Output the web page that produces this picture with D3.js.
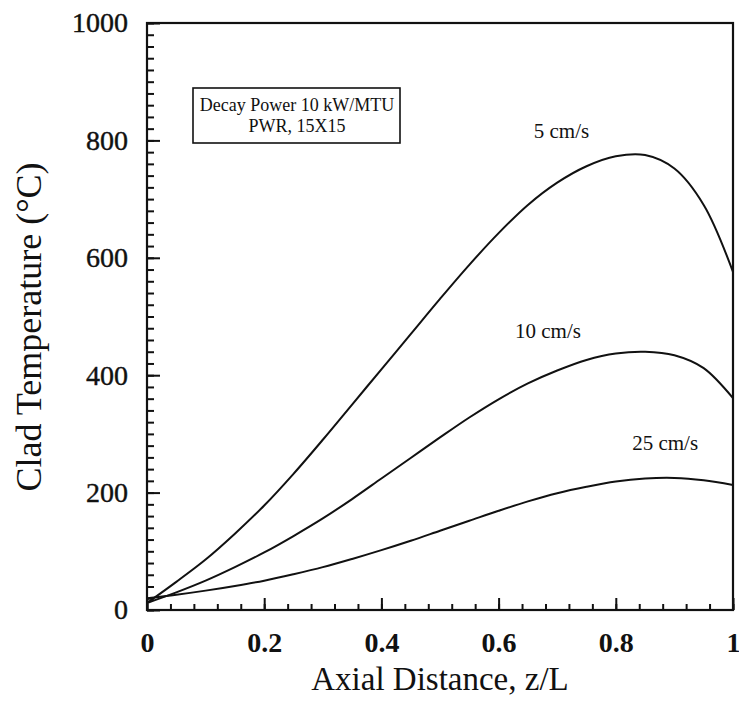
<!DOCTYPE html>
<html>
<head>
<meta charset="utf-8">
<script src="https://cdn.jsdelivr.net/npm/d3@7"></script>
<style>
body { margin: 0; background: #fff; }
text { font-family: "Liberation Serif", "Times New Roman", serif; fill: #111; }
</style>
</head>
<body>
<script>
// data
var zPoints = [0, 0.05, 0.1, 0.15, 0.2, 0.25, 0.3, 0.35, 0.4, 0.45, 0.5,
               0.55, 0.6, 0.65, 0.7, 0.75, 0.8, 0.85, 0.9, 0.95, 1.0];
var temp5  = [12, 48, 86, 130, 178, 232, 290, 350, 410, 470, 530,
              588, 642, 690, 728, 756, 773, 775, 752, 690, 576];
var temp10 = [12, 30, 50, 73, 98, 126, 156, 189, 224, 259, 294,
              328, 359, 386, 408, 426, 437, 440, 434, 412, 361];
var temp25 = [20, 26, 33, 41, 50, 61, 73, 87, 102, 118, 135,
              152, 169, 185, 199, 210, 219, 224, 225, 221, 213];
var seriesNames = ["5 cm/s", "10 cm/s", "25 cm/s"];
var labelX = [0.66, 0.628, 0.828];
var labelY = [804, 463, 272];
var xTicks = [0, 0.2, 0.4, 0.6, 0.8, 1];
var yTicks = [0, 200, 400, 600, 800, 1000];
var boxLines = ["Decay Power 10 kW/MTU", "PWR, 15X15"];

var width = 739,
    height = 717,
    marginLeft = 147,
    marginRight = 6,
    marginTop = 23,
    marginBottom = 107
;

var svg = d3.select("body").append("svg")
    .attr("width", width)
    .attr("height", height)
;

var x = d3.scaleLinear()
    .domain([0, 1])
    .range([marginLeft, width - marginRight])
;
var y = d3.scaleLinear()
    .domain([0, 1000])
    .range([height - marginBottom, marginTop])
;

// minor ticks
svg.append("g")
    .attr("transform", `translate(0,${y(0)})`)
    .call(d3.axisBottom(x).tickValues(d3.range(0, 1.0001, 0.04)).tickSizeInner(-6).tickSizeOuter(0).tickFormat(function() { return ""; }))
;
svg.append("g")
    .attr("transform", `translate(${x(0)},0)`)
    .call(d3.axisLeft(y).tickValues(d3.range(0, 1001, 20)).tickSizeInner(-7).tickSizeOuter(0).tickFormat(function() { return ""; }))
;

// major ticks + labels
var xAxis = svg.append("g")
    .attr("transform", `translate(0,${y(0)})`)
    .call(d3.axisBottom(x).tickValues(xTicks).tickSizeInner(-12).tickSizeOuter(0).tickPadding(22).tickFormat(d3.format("")))
;
xAxis.selectAll("text")
    .attr("font-size", 28)
    .attr("font-weight", "bold")
;

var yAxis = svg.append("g")
    .attr("transform", `translate(${x(0)},0)`)
    .call(d3.axisLeft(y).tickValues(yTicks).tickSizeInner(-13).tickSizeOuter(0).tickPadding(19).tickFormat(d3.format("d")))
;
yAxis.selectAll("text")
    .attr("font-size", 28)
    .attr("stroke", "#111")
    .attr("stroke-width", 0.4)
;

svg.selectAll(".domain").remove();
svg.selectAll(".tick line").attr("stroke", "#111").attr("stroke-width", 2);

// frame
svg.append("rect")
    .attr("x", x(0))
    .attr("y", y(1000))
    .attr("width", x(1) - x(0))
    .attr("height", y(0) - y(1000))
    .attr("fill", "none")
    .attr("stroke", "#111")
    .attr("stroke-width", 2.2)
;

// curves
var line = d3.line()
    .x(function(d) { return x(d[0]); })
    .y(function(d) { return y(d[1]); })
    .curve(d3.curveCatmullRom.alpha(0.5))
;
[temp5, temp10, temp25].forEach(function(vals, i) {
    svg.append("path")
        .datum(zPoints.map(function(z, j) { return [z, vals[j]]; }))
        .attr("d", line)
        .attr("fill", "none")
        .attr("stroke", "#111")
        .attr("stroke-width", 2)
    ;
    svg.append("text")
        .attr("x", x(labelX[i]))
        .attr("y", y(labelY[i]))
        .attr("font-size", 21)
        .text(seriesNames[i])
    ;
});

// info box
svg.append("rect")
    .attr("x", 193)
    .attr("y", 88)
    .attr("width", 207)
    .attr("height", 55)
    .attr("fill", "#fff")
    .attr("stroke", "#111")
    .attr("stroke-width", 1.6)
;
boxLines.forEach(function(t, i) {
    svg.append("text")
        .attr("x", 297)
        .attr("y", 111 + i * 21)
        .attr("text-anchor", "middle")
        .attr("font-size", 18)
        .text(t)
    ;
});

// axis titles
svg.append("text")
    .attr("x", (x(0) + x(1)) / 2)
    .attr("y", 690)
    .attr("text-anchor", "middle")
    .attr("font-size", 33)
    .text("Axial Distance, z/L")
;
svg.append("text")
    .attr("transform", `translate(41,${327}) rotate(-90)`)
    .attr("text-anchor", "middle")
    .attr("font-size", 36)
    .text("Clad Temperature (°C)")
;
</script>
</body>
</html>
